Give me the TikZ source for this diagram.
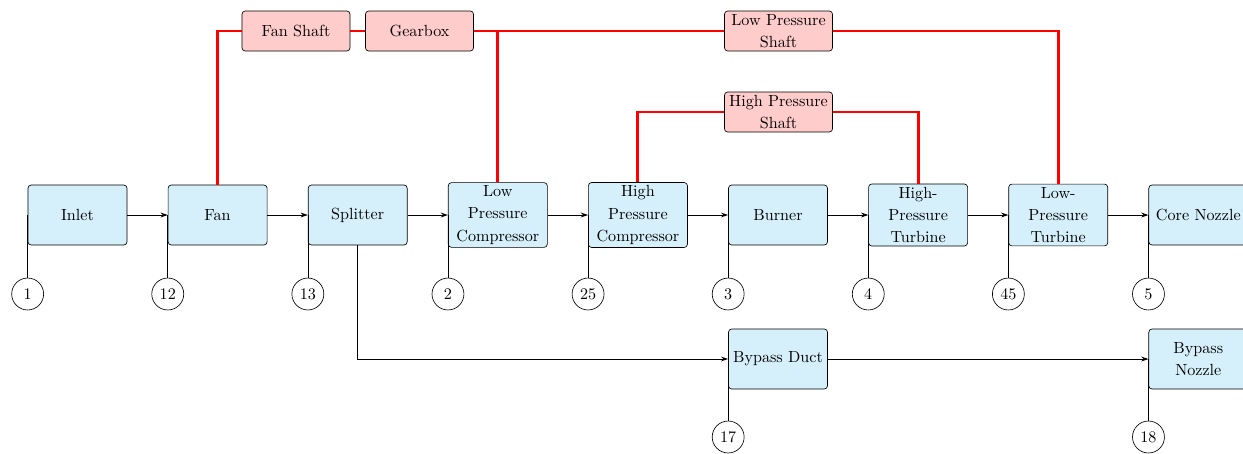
\documentclass[tikz,border=0pt]{standalone}
\usetikzlibrary{arrows.meta,calc}
\definecolor{boxblue}{RGB}{213,240,250}
\definecolor{boxred}{RGB}{255,204,204}
\begin{document}
\begin{tikzpicture}[x=0.62pt,y=-0.62pt,
  txt/.style={font=\fontsize{10}{13.7}\selectfont},
  comp/.style={txt,draw,rounded corners=2pt,fill=boxblue,minimum width=61.4pt,minimum height=37.2pt,align=center,inner sep=2pt},
  shaft/.style={txt,draw,rounded corners=2pt,fill=boxred,minimum width=67pt,minimum height=24.8pt,align=center,inner sep=1pt},
  station/.style={txt,draw,circle,minimum size=19.8pt,inner sep=0pt},
  flow/.style={semithick,-{Stealth[length=4.5pt,width=3pt]}},
  tap/.style={thin},
  mech/.style={draw=red,line width=1.8pt}]
\useasboundingbox (0,0) rectangle (1243,453);
% components
\node[comp] (inlet) at (77.5,215) {Inlet};
\node[comp] (fan) at (217.6,215) {Fan};
\node[comp] (split) at (357.7,215) {Splitter};
\node[comp] (lpc) at (497.8,215) {Low\\Pressure\\Compressor};
\node[comp] (hpc) at (637.9,215) {High\\Pressure\\Compressor};
\node[comp] (burner) at (778.0,215) {Burner};
\node[comp] (hpt) at (918.1,215) {High-\\Pressure\\Turbine};
\node[comp] (lpt) at (1058.2,215) {Low-\\Pressure\\Turbine};
\node[comp] (core) at (1198.3,215) {Core Nozzle};
\node[comp] (bduct) at (778.0,359) {Bypass Duct};
\node[comp] (bnoz) at (1198.3,359) {Bypass\\Nozzle};
% shafts
\node[shaft] (fshaft) at (296,31) {Fan Shaft};
\node[shaft] (gear) at (419.5,31) {Gearbox};
\node[shaft] (lpshaft) at (778.5,31) {Low Pressure\\Shaft};
\node[shaft] (hpshaft) at (778.5,112) {High Pressure\\Shaft};
% stations
\node[station] (s1) at ($(inlet.west)+(0,79)$) {1};
\node[station] (s12) at ($(fan.west)+(0,79)$) {12};
\node[station] (s13) at ($(split.west)+(0,79)$) {13};
\node[station] (s2) at ($(lpc.west)+(0,79)$) {2};
\node[station] (s25) at ($(hpc.west)+(0,79)$) {25};
\node[station] (s3) at ($(burner.west)+(0,79)$) {3};
\node[station] (s4) at ($(hpt.west)+(0,79)$) {4};
\node[station] (s45) at ($(lpt.west)+(0,79)$) {45};
\node[station] (s5) at ($(core.west)+(0,79)$) {5};
\node[station] (s17) at ($(bduct.west)+(0,78)$) {17};
\node[station] (s18) at ($(bnoz.west)+(0,78)$) {18};
\foreach \b/\s in {inlet/s1,fan/s12,split/s13,lpc/s2,hpc/s25,burner/s3,hpt/s4,lpt/s45,core/s5,bduct/s17,bnoz/s18}
  \draw[tap] (\b.west) -- (\s.north);
% flow
\draw[flow] (inlet) -- (fan);
\draw[flow] (fan) -- (split);
\draw[flow] (split) -- (lpc);
\draw[flow] (lpc) -- (hpc);
\draw[flow] (hpc) -- (burner);
\draw[flow] (burner) -- (hpt);
\draw[flow] (hpt) -- (lpt);
\draw[flow] (lpt) -- (core);
\draw[flow] (split.south) |- (bduct.west);
\draw[flow] (bduct) -- (bnoz);
% mechanical
\draw[mech] (fan.north) |- (fshaft.west);
\draw[mech] (fshaft.east) -- (gear.west);
\draw[mech] (gear.east) -- (lpshaft.west);
\draw[mech] (lpc.north) -- (lpc.north |- gear.east);
\draw[mech] (lpshaft.east) -| (lpt.north);
\draw[mech] (hpc.north) |- (hpshaft.west);
\draw[mech] (hpshaft.east) -| (hpt.north);
\end{tikzpicture}
\end{document}
